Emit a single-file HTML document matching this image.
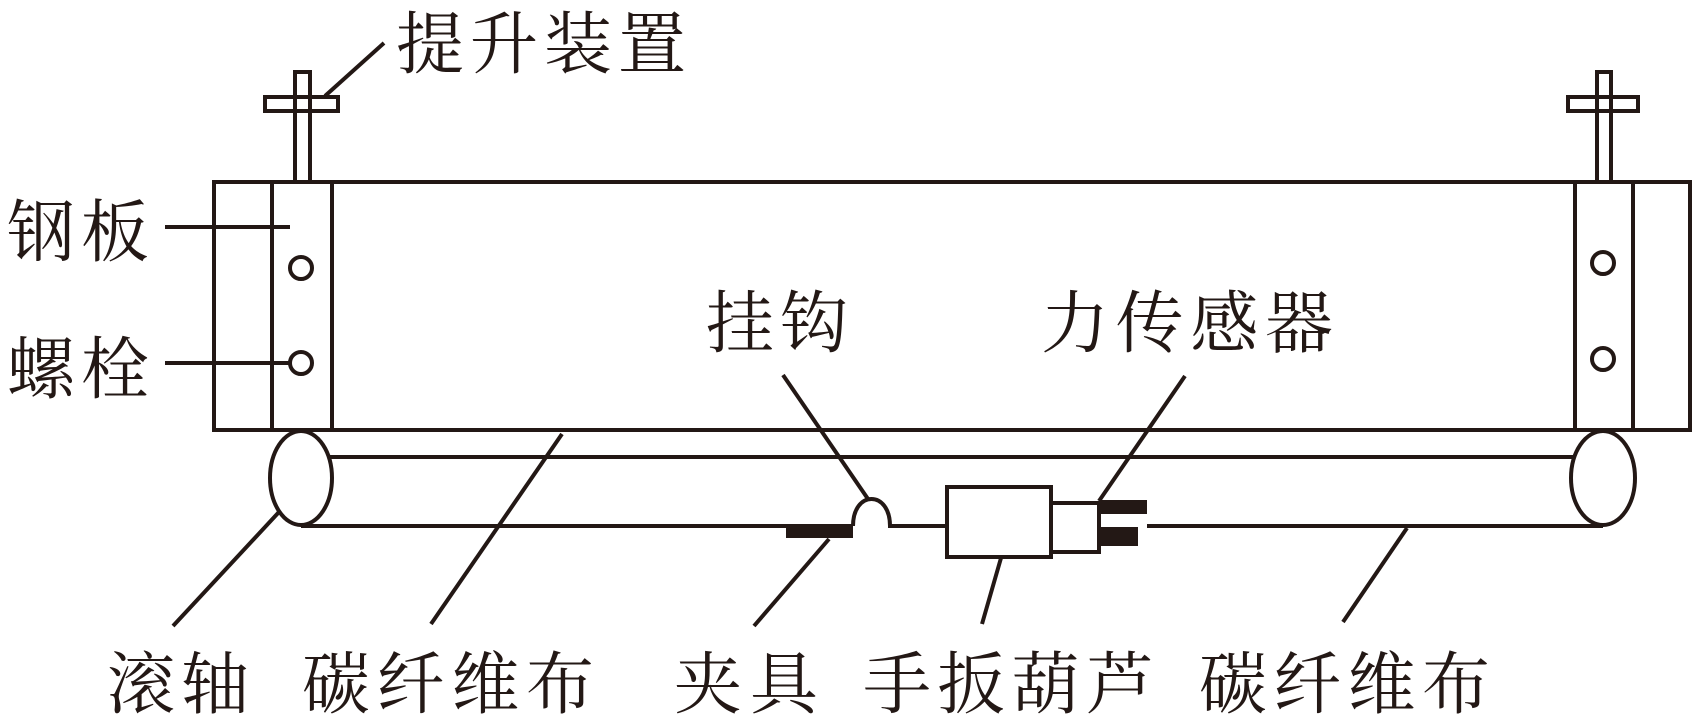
<!DOCTYPE html>
<html><head><meta charset="utf-8"><style>html,body{margin:0;padding:0;background:#fff}svg{display:block}</style></head><body>
<svg width="1700" height="717" viewBox="0 0 1700 717" xmlns="http://www.w3.org/2000/svg">
<g fill="none" stroke="#231815" stroke-width="4">
<!-- lifting devices -->
<rect x="295" y="72" width="15" height="110" fill="#fff"/>
<rect x="265" y="97" width="73" height="14"/>
<line x1="297" y1="97" x2="297" y2="111" stroke="#fff" stroke-width="0"/>
<rect x="1597" y="72" width="14" height="110" fill="#fff"/>
<rect x="1568" y="97" width="70" height="14"/>
<!-- main rect -->
<rect x="214" y="182" width="1476" height="248" fill="#fff"/>
<line x1="272" y1="182" x2="272" y2="430"/>
<line x1="332" y1="182" x2="332" y2="430"/>
<line x1="1575" y1="182" x2="1575" y2="430"/>
<line x1="1633" y1="182" x2="1633" y2="430"/>
<circle cx="301" cy="268" r="11"/>
<circle cx="301" cy="363" r="11"/>
<circle cx="1603" cy="263" r="11"/>
<circle cx="1603" cy="359" r="11"/>
<!-- cylinder -->
<line x1="301" y1="457" x2="1603" y2="457"/>
<line x1="301" y1="526" x2="853" y2="526"/>
<path d="M853 526 C853 490 890 490 890 526 L947 526"/>
<line x1="1147" y1="526" x2="1603" y2="526"/>
<ellipse cx="301" cy="478" rx="31" ry="47" fill="#fff"/>
<ellipse cx="1603" cy="478" rx="32" ry="47" fill="#fff"/>
<!-- hoist & sensor -->
<rect x="947" y="487" width="104" height="70" fill="#fff"/>
<rect x="1051" y="503" width="48" height="49" fill="#fff"/>
<!-- leaders -->
<line x1="325" y1="96" x2="384" y2="43"/>
<line x1="165" y1="227" x2="290" y2="227"/>
<line x1="165" y1="363" x2="289" y2="363"/>
<line x1="173" y1="626" x2="279" y2="512"/>
<line x1="431" y1="624" x2="562" y2="434"/>
<line x1="754" y1="626" x2="829" y2="539"/>
<line x1="783" y1="375" x2="868" y2="499"/>
<line x1="1185" y1="376" x2="1099" y2="501"/>
<line x1="982" y1="624" x2="1001" y2="558"/>
<line x1="1343" y1="622" x2="1407" y2="528"/>
</g>
<g fill="#231815">
<rect x="786" y="526" width="67" height="12"/>
<rect x="1099" y="500" width="48" height="14"/>
<rect x="1099" y="527" width="39" height="19"/>
</g>
<g font-family="'Liberation Serif','Noto Serif CJK SC',serif" font-size="68" fill="#231815" lengthAdjust="spacing">
<text x="396" y="68" textLength="290" lengthAdjust="spacing">提升装置</text>
<text x="7" y="256" textLength="142" lengthAdjust="spacing">钢板</text>
<text x="7" y="393" textLength="142" lengthAdjust="spacing">螺栓</text>
<text x="706" y="347" textLength="142" lengthAdjust="spacing">挂钩</text>
<text x="1041" y="347" textLength="292" lengthAdjust="spacing">力传感器</text>
<text x="107" y="708" textLength="142" lengthAdjust="spacing">滚轴</text>
<text x="302" y="708" textLength="292" lengthAdjust="spacing">碳纤维布</text>
<text x="674" y="708" textLength="144" lengthAdjust="spacing">夹具</text>
<text x="863" y="708" textLength="291" lengthAdjust="spacing">手扳葫芦</text>
<text x="1199" y="708" textLength="291" lengthAdjust="spacing">碳纤维布</text>
</g>
</svg>
</body></html>
